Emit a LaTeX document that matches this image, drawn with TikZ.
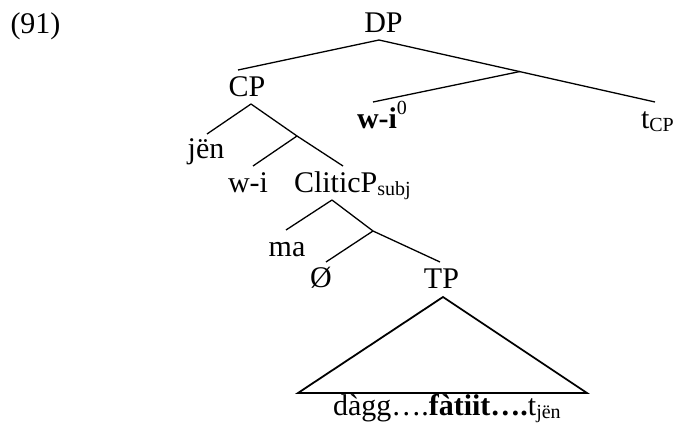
\documentclass[tikz,border=0pt]{standalone}
\usepackage{fontspec}
\setmainfont{Liberation Serif}
\newcommand\mysub[1]{\raisebox{-3.5pt}{\fontsize{20}{20}\selectfont #1}}
\newcommand\mysup[1]{\raisebox{14pt}{\fontsize{20}{20}\selectfont #1}}
\begin{document}
\begin{tikzpicture}[x=1pt,y=-1pt,
  lbl/.style={inner sep=0pt,outer sep=0pt,font=\fontsize{30}{36}\selectfont},
  edge/.style={line width=1.3pt,black},
  tri/.style={line width=1.8pt,black,line join=miter}]
\useasboundingbox (0,0) rectangle (675,423);
% labels
\node[lbl,anchor=base west] (ex) at (10.5,33) {(91)};
\node[lbl,anchor=base] (dp) at (383.5,32) {DP};
\node[lbl,anchor=base] (cp) at (247,96) {CP};
\node[lbl,anchor=base west] (wiz) at (357,128) {\textbf{w-i}\mysup{0}};
\node[lbl,anchor=base west] (tcp) at (641,128) {t\mysub{CP}};
\node[lbl,anchor=base] (jen) at (206,158) {jën};
\node[lbl,anchor=base] (wi) at (248,192) {w-i};
\node[lbl,anchor=base west] (clp) at (294,192) {CliticP\mysub{subj}};
\node[lbl,anchor=base] (ma) at (287,256) {ma};
\node[lbl,anchor=base] (emp) at (321,287) {Ø};
\node[lbl,anchor=base] (tp) at (441.5,288) {TP};
\node[lbl,anchor=base west] (str) at (333,415) {dàgg….\textbf{fàtiit….}t\mysub{jën}};
% branch points
\coordinate (ap1) at (379,40);
\coordinate (c1) at (238,70);
\coordinate (c2) at (655,102);
\coordinate (b1) at (520,71.5);
\coordinate (c3) at (373,102);
\coordinate (ap2) at (251,104);
\coordinate (c4) at (207,134);
\coordinate (b2) at (297,136);
\coordinate (c5) at (343,166);
\coordinate (c6) at (253,166);
\coordinate (ap3) at (332,200);
\coordinate (c7) at (286,230);
\coordinate (b3) at (373,231);
\coordinate (c8) at (440,262);
\coordinate (c9) at (326,262);
\coordinate (t1) at (443,297);
\coordinate (t2) at (298,393);
\coordinate (t3) at (587,393);
% edges
\draw[edge] (ap1) -- (c1);
\draw[edge] (ap1) -- (c2);
\draw[edge] (b1) -- (c3);
\draw[edge] (ap2) -- (c4);
\draw[edge] (ap2) -- (b2) -- (c5);
\draw[edge] (b2) -- (c6);
\draw[edge] (ap3) -- (c7);
\draw[edge] (ap3) -- (b3) -- (c8);
\draw[edge] (b3) -- (c9);
\draw[tri] (t1) -- (t2) -- (t3) -- cycle;
\end{tikzpicture}
\end{document}
